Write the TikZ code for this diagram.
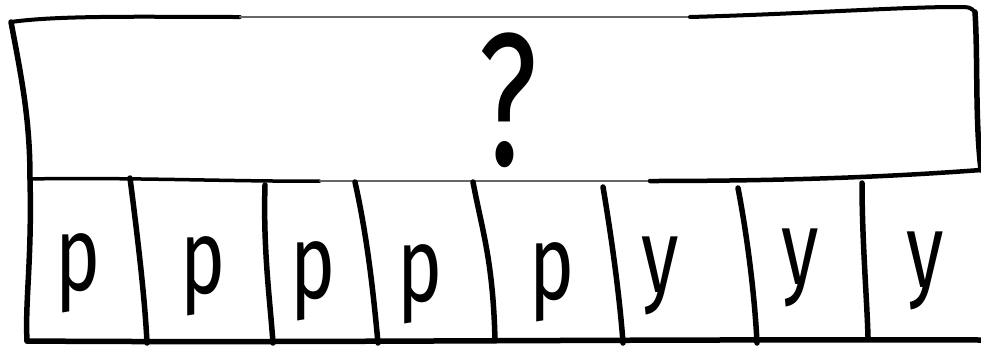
\documentclass[tikz,border=0pt]{standalone}
\usepackage{fontspec}
\usepackage{graphicx}
\setsansfont{Fira Sans}
\begin{document}
\begin{tikzpicture}[x=1bp,y=-1bp, line cap=round, line join=round,
  ink/.style={line width=5.5bp, black},
  faint/.style={line width=2.2bp, black!60},
  glyph/.style={font=\sffamily\fontsize{106}{106}\selectfont, inner sep=0pt, anchor=center},
  query/.style={font=\sffamily\fontsize{190}{190}\selectfont, inner sep=0pt, anchor=center}]
\useasboundingbox (0,0) rectangle (981,349);
% frame corners
\coordinate (tl) at (11,22);
\coordinate (tr) at (975,12);
\coordinate (ml) at (30,179);
\coordinate (mr) at (981,170);
\coordinate (bl) at (27,341);
\coordinate (br) at (981,340);
\coordinate (t1) at (240,17);
\coordinate (t2) at (690,17);
\coordinate (m1) at (320,181);
\coordinate (m2) at (650,181);
% top edge
\draw[ink, line width=4bp] (tl) .. controls (60,15) and (150,17) .. (t1);
\draw[faint] (t1) -- (t2);
\draw[ink, line width=4bp] (t2) .. controls (800,14) and (900,7) .. (955,7) .. controls (970,7) .. (tr);
% right edge of top box
\draw[ink] (tr) .. controls (978,60) and (975,120) .. (mr);
% left edge
\draw[ink] (tl) .. controls (22,80) and (30,120) .. (ml);
\draw[ink] (ml) .. controls (32,260) and (25,300) .. (bl);
% middle line
\draw[ink, line width=3.5bp] (ml) .. controls (120,177) and (250,182) .. (m1);
\draw[faint] (m1) -- (m2);
\draw[ink, line width=4.5bp] (m2) .. controls (800,181) and (900,176) .. (mr);
% bottom line
\draw[ink] (bl) .. controls (300,343) and (600,339) .. (br);
% dividers
\coordinate (d1t) at (130,178); \coordinate (d1b) at (147,343);
\coordinate (d2t) at (265,185); \coordinate (d2b) at (273,343);
\coordinate (d3t) at (355,182); \coordinate (d3b) at (378,343);
\coordinate (d4t) at (473,182); \coordinate (d4b) at (495,340);
\coordinate (d5t) at (603,187); \coordinate (d5b) at (623,343);
\coordinate (d6t) at (738,188); \coordinate (d6b) at (757,343);
\coordinate (d7t) at (862,183); \coordinate (d7b) at (868,337);
\draw[ink] (d1t) .. controls (138,240) and (145,300) .. (d1b);
\draw[ink] (d2t) .. controls (263,250) and (270,300) .. (d2b);
\draw[ink] (d3t) .. controls (368,240) and (374,300) .. (d3b);
\draw[ink] (d4t) .. controls (482,230) and (493,260) .. (d4b);
\draw[ink] (d5t) .. controls (612,240) and (620,300) .. (d5b);
\draw[ink] (d6t) .. controls (748,240) and (755,300) .. (d6b);
\draw[ink] (d7t) .. controls (862,240) and (867,300) .. (d7b);
% texts
\node[query] (q) at (508,100) {\scalebox{0.68}[1]{?}};
\node[glyph] (c1) at (78,273) {\scalebox{0.72}[1]{p}};
\node[glyph] (c2) at (203,276) {\scalebox{0.72}[1]{p}};
\node[glyph] (c3) at (313,281) {\scalebox{0.72}[1]{p}};
\node[glyph] (c4) at (420,284) {\scalebox{0.72}[1]{p}};
\node[glyph] (c5) at (552,282) {\scalebox{0.72}[1]{p}};
\node[glyph] (c6) at (660,276) {\scalebox{0.72}[1]{y}};
\node[glyph] (c7) at (800,268) {\scalebox{0.72}[1]{y}};
\node[glyph] (c8) at (925,271) {\scalebox{0.72}[1]{y}};
\end{tikzpicture}
\end{document}
